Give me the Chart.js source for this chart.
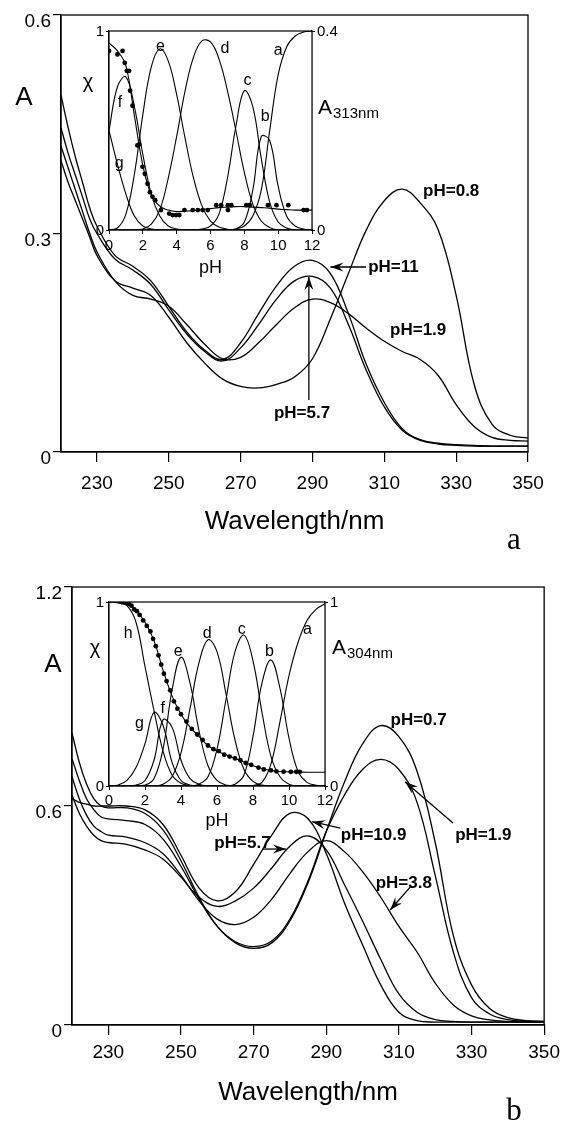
<!DOCTYPE html>
<html><head><meta charset="utf-8">
<script src="https://cdn.jsdelivr.net/npm/chart.js@4.4.1/dist/chart.umd.min.js"></script>
<style>
html,body{margin:0;padding:0;background:#fff;}
body{width:566px;height:1126px;position:relative;overflow:hidden;}
canvas{position:absolute;}
</style></head><body>
<canvas id="mainA" width="566" height="563" style="left:0;top:0;width:566px;height:563px"></canvas>
<canvas id="mainB" width="566" height="563" style="left:0;top:563px;width:566px;height:563px"></canvas>
<canvas id="insetA" width="340" height="290" style="left:60px;top:0;width:340px;height:290px"></canvas>
<canvas id="insetB" width="340" height="270" style="left:60px;top:570px;width:340px;height:270px"></canvas>
<script>
// ---------- data: panel a (main spectra) ----------
const wavelengths = [220,222,224,226,228,230,235,240,245,250,255,260,265,270,275,280,285,290,295,300,305,310,315,320,325,330,335,340,345,350];
const specA_pH11  = [0.49,0.445,0.405,0.37,0.335,0.31,0.27,0.255,0.235,0.2,0.165,0.14,0.127,0.15,0.19,0.228,0.255,0.263,0.245,0.19,0.12,0.068,0.032,0.017,0.012,0.01,0.009,0.008,0.008,0.008];
const specA_pH57  = [0.445,0.41,0.38,0.35,0.32,0.3,0.265,0.25,0.23,0.195,0.162,0.138,0.125,0.143,0.175,0.21,0.235,0.241,0.225,0.175,0.112,0.062,0.03,0.016,0.011,0.009,0.008,0.008,0.008,0.008];
const specA_pH19  = [0.42,0.39,0.36,0.33,0.3,0.275,0.235,0.215,0.21,0.2,0.175,0.148,0.128,0.13,0.15,0.175,0.198,0.21,0.205,0.19,0.17,0.152,0.138,0.127,0.105,0.065,0.035,0.02,0.016,0.015];
const specA_pH08  = [0.4,0.37,0.345,0.32,0.295,0.27,0.235,0.225,0.215,0.185,0.15,0.122,0.1,0.09,0.088,0.093,0.103,0.128,0.183,0.245,0.305,0.345,0.361,0.342,0.305,0.215,0.093,0.038,0.023,0.019];
// ---------- data: panel b (main spectra) ----------
const specB_pH07  = [0.8,0.72,0.66,0.62,0.6,0.595,0.595,0.58,0.535,0.45,0.35,0.27,0.225,0.21,0.225,0.285,0.39,0.53,0.665,0.77,0.82,0.79,0.695,0.5,0.245,0.11,0.045,0.02,0.012,0.01];
const specB_pH19  = [0.73,0.67,0.62,0.59,0.57,0.565,0.56,0.55,0.51,0.435,0.345,0.27,0.228,0.215,0.23,0.29,0.395,0.53,0.63,0.7,0.728,0.7,0.61,0.41,0.2,0.075,0.03,0.015,0.01,0.01];
const specB_pH38  = [0.68,0.62,0.575,0.545,0.53,0.52,0.515,0.5,0.47,0.41,0.34,0.29,0.275,0.295,0.345,0.415,0.475,0.505,0.475,0.42,0.35,0.27,0.2,0.115,0.055,0.025,0.014,0.01,0.008,0.008];
const specB_pH57  = [0.63,0.58,0.545,0.52,0.505,0.5,0.495,0.48,0.455,0.405,0.35,0.325,0.34,0.375,0.43,0.49,0.518,0.48,0.385,0.285,0.18,0.085,0.035,0.015,0.01,0.008,0.008,0.008,0.008,0.008];
const specB_pH109 = [0.62,0.61,0.605,0.6,0.6,0.6,0.6,0.59,0.55,0.465,0.375,0.34,0.365,0.44,0.52,0.58,0.565,0.47,0.335,0.22,0.11,0.035,0.012,0.008,0.008,0.008,0.008,0.008,0.008,0.008];
const wlTicks = [230,250,270,290,310,330,350];
const yTicksA = [0,0.3,0.6];
const yTicksB = [0,0.6,1.2];
// ---------- data: insets ----------
const pHgrid = [0,0.5,1,1.5,2,2.5,3,3.5,4,4.5,5,5.5,6,6.5,7,7.5,8,8.5,9,9.5,10,10.5,11,11.5,12];
const insA_a = [0,0,0,0,0,0,0,0,0,0,0,0,0,0,0,0.005,0.02,0.07,0.2,0.5,0.78,0.92,0.975,0.995,1.0];
const insA_b = [0,0,0,0,0,0,0,0,0,0,0,0,0,0,0,0.005,0.04,0.2,0.47,0.45,0.22,0.07,0.02,0.005,0];
const insA_c = [0,0,0,0,0,0,0,0,0,0,0,0.005,0.02,0.08,0.26,0.52,0.7,0.62,0.36,0.14,0.04,0.01,0,0,0];
const insA_d = [0,0,0,0,0.005,0.03,0.1,0.26,0.47,0.7,0.87,0.95,0.945,0.86,0.7,0.5,0.29,0.13,0.045,0.012,0,0,0,0,0];
const insA_e = [0,0.01,0.08,0.28,0.58,0.82,0.91,0.85,0.68,0.46,0.26,0.12,0.045,0.015,0.004,0,0,0,0,0,0,0,0,0,0];
const insA_f = [0.5,0.72,0.77,0.62,0.38,0.18,0.07,0.02,0.005,0,0,0,0,0,0,0,0,0,0,0,0,0,0,0,0];
const insA_g = [0.5,0.33,0.18,0.07,0.02,0.005,0,0,0,0,0,0,0,0,0,0,0,0,0,0,0,0,0,0,0];
const insA_fit = [0.376,0.36,0.33,0.23,0.13,0.07,0.048,0.04,0.037,0.038,0.039,0.041,0.043,0.045,0.046,0.047,0.047,0.046,0.045,0.044,0.042,0.041,0.04,0.04,0.04];
const insA_dotPH = [0,0.5,0.8,0.93,1.05,1.19,1.25,1.39,1.68,1.78,1.98,2.12,2.28,2.42,2.57,2.73,3.07,3.56,3.76,3.96,4.16,4.46,4.95,5.25,5.54,5.84,6.34,6.63,7.03,7.23,7.03,8.12,8.32,9.4,9.9,10.6,11.5,11.7];
const insA_dotA  = [0.36,0.353,0.36,0.336,0.32,0.32,0.28,0.25,0.17,0.172,0.127,0.113,0.093,0.076,0.067,0.06,0.04,0.033,0.03,0.03,0.03,0.04,0.04,0.04,0.04,0.04,0.05,0.05,0.05,0.05,0.04,0.05,0.05,0.05,0.05,0.05,0.04,0.04];
const insB_a = [0,0,0,0,0,0,0,0,0,0,0,0,0,0,0,0,0.003,0.02,0.12,0.35,0.6,0.78,0.9,0.96,0.99];
const insB_b = [0,0,0,0,0,0,0,0,0,0,0,0,0,0,0.01,0.06,0.27,0.56,0.685,0.53,0.26,0.08,0.02,0.004,0];
const insB_c = [0,0,0,0,0,0,0,0,0,0,0.01,0.05,0.2,0.47,0.73,0.82,0.68,0.4,0.16,0.05,0.01,0,0,0,0];
const insB_d = [0,0,0,0,0,0,0.01,0.05,0.18,0.42,0.67,0.795,0.73,0.5,0.25,0.09,0.025,0.005,0,0,0,0,0,0,0];
const insB_e = [0,0,0,0,0.005,0.04,0.2,0.52,0.7,0.56,0.3,0.11,0.03,0.005,0,0,0,0,0,0,0,0,0,0,0];
const insB_f = [0,0,0,0.005,0.03,0.14,0.36,0.32,0.14,0.04,0.01,0,0,0,0,0,0,0,0,0,0,0,0,0,0];
const insB_g = [0,0.005,0.03,0.1,0.23,0.4,0.33,0.13,0.03,0.005,0,0,0,0,0,0,0,0,0,0,0,0,0,0,0];
const insB_h = [1.0,0.995,0.98,0.89,0.65,0.41,0.19,0.06,0.015,0.003,0,0,0,0,0,0,0,0,0,0,0,0,0,0,0];
const insB_fit = [1.0,1.0,0.995,0.955,0.89,0.79,0.63,0.49,0.39,0.32,0.27,0.22,0.19,0.17,0.15,0.13,0.11,0.095,0.085,0.079,0.077,0.076,0.075,0.075,0.075];
const insB_dotPH = [0.7,0.8,0.9,1.0,1.1,1.25,1.4,1.55,1.7,1.9,2.1,2.3,2.45,2.6,2.75,2.9,3.05,3.2,3.4,3.6,3.8,4.0,4.3,4.6,4.9,5.2,5.5,5.8,6.1,6.4,6.7,7.0,7.3,7.6,7.9,8.3,8.6,9.0,9.3,9.7,10.1,10.4,10.6];
const insB_dotA  = [1.0,1.0,1.0,0.995,0.99,0.98,0.96,0.95,0.93,0.9,0.87,0.84,0.8,0.76,0.71,0.66,0.61,0.57,0.52,0.46,0.42,0.39,0.35,0.31,0.28,0.25,0.22,0.2,0.19,0.17,0.16,0.15,0.14,0.125,0.115,0.1,0.09,0.085,0.08,0.078,0.077,0.077,0.077];
const pHTicks = [0,2,4,6,8,10,12];

// ---------- helpers ----------
const FONT = "'Liberation Sans', Arial, Helvetica, sans-serif";
Chart.defaults.font.family = FONT;
Chart.defaults.color = '#000';
const xy = (xs, ys) => xs.map((x, i) => ({x: x, y: ys[i]}));
const line = (xs, ys, w, axis) => ({data: xy(xs, ys), borderColor: '#000', borderWidth: w, pointRadius: 0, fill: false, tension: 0.4, yAxisID: axis || 'y'});
const setTicks = arr => (s => { s.ticks = arr.map(v => ({value: v})); });

const framePlugin = {
  id: 'frame',
  beforeDatasetsDraw(chart, args, o) {
    if (!o.fill) return;
    const a = chart.chartArea, ctx = chart.ctx;
    ctx.save(); ctx.fillStyle = '#fff'; ctx.fillRect(a.left, a.top, a.right - a.left, a.bottom - a.top); ctx.restore();
  },
  afterDraw(chart, args, o) {
    const a = chart.chartArea, ctx = chart.ctx;
    ctx.save(); ctx.strokeStyle = '#000'; ctx.lineWidth = o.width || 1.2;
    ctx.strokeRect(a.left, a.top, a.right - a.left, a.bottom - a.top); ctx.restore();
  }
};
const notesPlugin = {
  id: 'notes',
  afterDraw(chart, args, o) {
    const ctx = chart.ctx, xs = chart.scales.x, ys = chart.scales.y;
    ctx.save(); ctx.fillStyle = '#000'; ctx.strokeStyle = '#000';
    (o.arrows || []).forEach(a => {
      const x1 = xs.getPixelForValue(a.x1), y1 = ys.getPixelForValue(a.y1);
      const x2 = xs.getPixelForValue(a.x2), y2 = ys.getPixelForValue(a.y2);
      ctx.lineWidth = 1.3; ctx.beginPath(); ctx.moveTo(x1, y1); ctx.lineTo(x2, y2); ctx.stroke();
      const an = Math.atan2(y2 - y1, x2 - x1), L = 13, W = 4.5;
      ctx.beginPath(); ctx.moveTo(x2, y2);
      ctx.lineTo(x2 - L * Math.cos(an) + W * Math.sin(an), y2 - L * Math.sin(an) - W * Math.cos(an));
      ctx.lineTo(x2 - 0.65 * L * Math.cos(an), y2 - 0.65 * L * Math.sin(an));
      ctx.lineTo(x2 - L * Math.cos(an) - W * Math.sin(an), y2 - L * Math.sin(an) + W * Math.cos(an));
      ctx.closePath(); ctx.fill();
    });
    (o.labels || []).forEach(t => {
      ctx.font = t.font; ctx.textAlign = t.align || 'left'; ctx.textBaseline = 'middle';
      const x = t.px !== undefined ? t.px : xs.getPixelForValue(t.x);
      const y = t.py !== undefined ? t.py : ys.getPixelForValue(t.y);
      ctx.fillText(t.text, x, y);
      if (t.sub) {
        const w = ctx.measureText(t.text).width;
        ctx.font = t.subFont; ctx.textAlign = 'left';
        ctx.fillText(t.sub, x + w + 1, y + t.subDy);
      }
    });
    ctx.restore();
  }
};
Chart.register(framePlugin, notesPlugin);

const BOLD = 'bold 17px ' + FONT;
function mainChart(id, series, xTickPad, yMax, yTicks, titlePad, notes, area) {
  return new Chart(document.getElementById(id), {
    type: 'line',
    data: {datasets: series.map(s => line(wavelengths, s, 1.3))},
    options: {
      responsive: false, animation: false, events: [],
      layout: {padding: {left: 0, top: area.top, right: 566 - area.right, bottom: 0}},
      plugins: {legend: {display: false}, tooltip: {enabled: false}, frame: {width: 1.3}, notes: notes},
      scales: {
        x: {type: 'linear', min: 220, max: 350, afterBuildTicks: setTicks(wlTicks),
            afterFit: s => { s.height = 563 - area.bottom; },
            grid: {drawOnChartArea: false, tickLength: 10, color: '#000', lineWidth: 1.2},
            border: {color: '#000', width: 1.3},
            ticks: {font: {size: 19}, padding: xTickPad, maxRotation: 0, color: '#000'},
            title: {display: true, text: 'Wavelength/nm', font: {size: 26}, padding: {top: 0, bottom: titlePad}, color: '#000'}},
        y: {min: 0, max: yMax, afterBuildTicks: setTicks(yTicks),
            afterFit: s => { s.width = area.left; },
            grid: {drawOnChartArea: false, tickLength: 8, color: '#000', lineWidth: 1.2},
            border: {color: '#000', width: 1.3},
            ticks: {font: {size: 19}, padding: 2, labelOffset: 7, callback: v => String(v), color: '#000'}}
      }
    }
  });
}

mainChart('mainA', [specA_pH11, specA_pH57, specA_pH19, specA_pH08], 10, 0.6, yTicksA, 26, {
  labels: [
    {x: 320.8, y: 0.358, text: 'pH=0.8', font: BOLD},
    {x: 305.5, y: 0.254, text: 'pH=11', font: BOLD},
    {x: 311.6, y: 0.1675, text: 'pH=1.9', font: BOLD},
    {x: 287.1, y: 0.0535, text: 'pH=5.7', font: BOLD, align: 'center'},
    {px: 24, py: 98, text: 'A', font: '26px ' + FONT, align: 'center'},
    {px: 514, py: 541, text: 'a', font: '31px "Liberation Serif", "Times New Roman", serif', align: 'center'}
  ],
  arrows: [
    {x1: 304.9, y1: 0.254, x2: 295.0, y2: 0.254},
    {x1: 289.0, y1: 0.0714, x2: 289.0, y2: 0.2403}
  ]
}, {left: 61, right: 528, top: 15, bottom: 452});

mainChart('mainB', [specB_pH07, specB_pH19, specB_pH38, specB_pH57, specB_pH109], 6, 1.2, yTicksB, 18, {
  labels: [
    {x: 307.7, y: 0.836, text: 'pH=0.7', font: BOLD},
    {x: 325.5, y: 0.5205, text: 'pH=1.9', font: BOLD},
    {x: 294.0, y: 0.5205, text: 'pH=10.9', font: BOLD},
    {x: 303.6, y: 0.389, text: 'pH=3.8', font: BOLD},
    {x: 259.2, y: 0.4986, text: 'pH=5.7', font: BOLD},
    {px: 53, py: 102, text: 'A', font: '26px ' + FONT, align: 'center'},
    {px: 514, py: 549, text: 'b', font: '31px "Liberation Serif", "Times New Roman", serif', align: 'center'}
  ],
  arrows: [
    {x1: 324.9, y1: 0.5534, x2: 311.7, y2: 0.6666},
    {x1: 293.9, y1: 0.5397, x2: 286.1, y2: 0.557},
    {x1: 313.4, y1: 0.381, x2: 307.6, y2: 0.315},
    {x1: 272.6, y1: 0.482, x2: 278.9, y2: 0.482}
  ]
}, {left: 72, right: 547, top: 24, bottom: 462});

function insetChart(id, W, H, area, species, fit, dotPH, dotA, y2Max, xTickPad, pHPad, notes) {
  const ds = species.map(s => line(pHgrid, s, 1.1));
  ds.push(line(pHgrid, fit, 1.1, 'y2'));
  ds.push({type: 'scatter', data: xy(dotPH, dotA), yAxisID: 'y2', pointRadius: 2.4, pointBackgroundColor: '#000', pointBorderColor: '#000', pointBorderWidth: 0, showLine: false});
  return new Chart(document.getElementById(id), {
    type: 'line',
    data: {datasets: ds},
    options: {
      responsive: false, animation: false, events: [],
      layout: {padding: {left: 0, top: area.top, right: 0, bottom: 0}},
      plugins: {legend: {display: false}, tooltip: {enabled: false}, frame: {width: 1.2, fill: true}, notes: notes},
      scales: {
        x: {type: 'linear', min: 0, max: 12, afterBuildTicks: setTicks(pHTicks),
            afterFit: s => { s.height = H - area.bottom; },
            grid: {drawOnChartArea: false, tickLength: 4, color: '#000', lineWidth: 1},
            border: {color: '#000', width: 1.2},
            ticks: {font: {size: 15}, padding: xTickPad, maxRotation: 0, color: '#000'},
            title: {display: true, text: 'pH', font: {size: 18}, padding: {top: 0, bottom: pHPad}, color: '#000'}},
        y: {min: 0, max: 1, position: 'left', afterBuildTicks: setTicks([0, 1]),
            afterFit: s => { s.width = area.left; },
            grid: {drawOnChartArea: false, tickLength: 3, color: '#000'},
            border: {color: '#000', width: 1.2},
            ticks: {font: {size: 15}, padding: 2, labelOffset: 1, callback: v => String(v), color: '#000'}},
        y2: {min: 0, max: y2Max, position: 'right', afterBuildTicks: setTicks([0, y2Max]),
            afterFit: s => { s.width = W - area.right; },
            grid: {drawOnChartArea: false, tickLength: 3, color: '#000'},
            border: {color: '#000', width: 1.2},
            ticks: {font: {size: 15}, padding: 2, labelOffset: 1, callback: v => String(v), color: '#000'}}
      }
    }
  });
}

const LET = '16px ' + FONT;
insetChart('insetA', 340, 290, {left: 49, right: 252, top: 31, bottom: 230},
  [insA_a, insA_b, insA_c, insA_d, insA_e, insA_f, insA_g], insA_fit, insA_dotPH, insA_dotA, 0.4, 3, 11, {
  labels: [
    {x: 3.04, y: 0.92, text: 'e', font: LET, align: 'center'},
    {x: 6.85, y: 0.91, text: 'd', font: LET, align: 'center'},
    {x: 10.0, y: 0.9, text: 'a', font: LET, align: 'center'},
    {x: 8.18, y: 0.75, text: 'c', font: LET, align: 'center'},
    {x: 9.23, y: 0.57, text: 'b', font: LET, align: 'center'},
    {x: 0.65, y: 0.64, text: 'f', font: LET, align: 'center'},
    {x: 0.6, y: 0.335, text: 'g', font: LET, align: 'center'},
    {px: 28, py: 82, text: 'χ', font: '20px ' + FONT, align: 'center'},
    {px: 258, py: 108, text: 'A', font: '21px ' + FONT, sub: '313nm', subFont: '15px ' + FONT, subDy: 6}
  ]
});
insetChart('insetB', 340, 270, {left: 49, right: 265, top: 32, bottom: 216},
  [insB_a, insB_b, insB_c, insB_d, insB_e, insB_f, insB_g, insB_h], insB_fit, insB_dotPH, insB_dotA, 1, 2, 8, {
  labels: [
    {x: 1.07, y: 0.83, text: 'h', font: LET, align: 'center'},
    {x: 1.69, y: 0.34, text: 'g', font: LET, align: 'center'},
    {x: 2.98, y: 0.42, text: 'f', font: LET, align: 'center'},
    {x: 3.85, y: 0.73, text: 'e', font: LET, align: 'center'},
    {x: 5.46, y: 0.83, text: 'd', font: LET, align: 'center'},
    {x: 7.37, y: 0.85, text: 'c', font: LET, align: 'center'},
    {x: 8.91, y: 0.73, text: 'b', font: LET, align: 'center'},
    {x: 11.02, y: 0.85, text: 'a', font: LET, align: 'center'},
    {px: 35, py: 78, text: 'χ', font: '20px ' + FONT, align: 'center'},
    {px: 272, py: 78, text: 'A', font: '21px ' + FONT, sub: '304nm', subFont: '15px ' + FONT, subDy: 6}
  ]
});
</script></body></html>
